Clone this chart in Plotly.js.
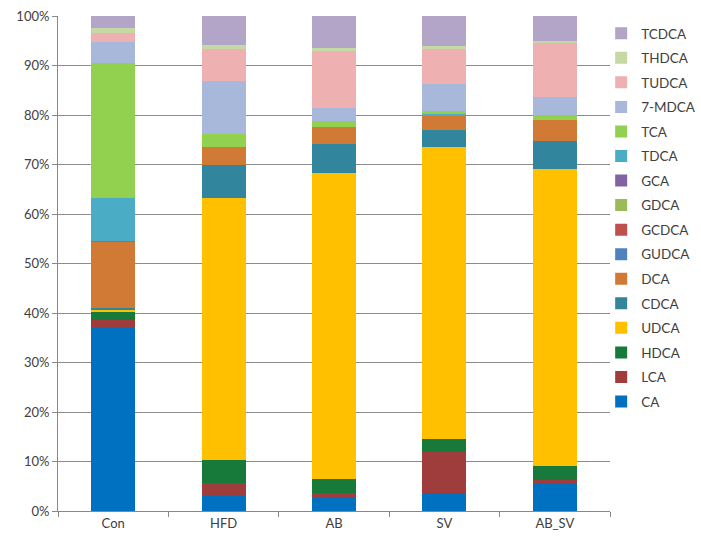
<!DOCTYPE html>
<html><head><meta charset="utf-8">
<script src="https://cdn.plot.ly/plotly-3.0.1.min.js"></script>
<style>body{margin:0;padding:0;background:#fff}#chart{width:701px;height:548px}</style>
</head><body><div id="chart"></div>
<script>
const groups = ["Con", "HFD", "AB", "SV", "AB_SV"];
const seriesNames = ["CA","LCA","HDCA","UDCA","CDCA","DCA","GUDCA","GCDCA","GDCA","GCA","TDCA","TCA","7-MDCA","TUDCA","THDCA","TCDCA"];
const CA     = [37.1, 3.2, 2.6, 3.4, 5.7];
const LCA    = [1.5, 2.4, 1.1, 8.6, 0.6];
const HDCA   = [1.7, 4.7, 2.8, 2.5, 2.8];
const UDCA   = [0.4, 53.0, 61.7, 59.1, 59.9];
const CDCA   = [0.4, 6.5, 6.0, 3.4, 5.7];
const DCA    = [13.2, 3.8, 3.3, 2.8, 4.3];
const GUDCA  = [0.3, 0, 0, 0, 0];
const GCDCA  = [0, 0, 0, 0, 0];
const GDCA   = [0, 0, 0, 0, 0];
const GCA    = [0, 0, 0, 0, 0];
const TDCA   = [8.7, 0, 0, 0.5, 0];
const TCA    = [27.3, 2.5, 1.3, 0.5, 1.0];
const MDCA7  = [4.2, 10.8, 2.7, 5.5, 3.7];
const TUDCA  = [1.7, 6.4, 11.5, 7.0, 10.9];
const THDCA  = [1.0, 0.8, 0.6, 0.7, 0.3];
const TCDCA  = [2.5, 5.9, 6.4, 6.0, 5.1];
const seriesValues = [CA, LCA, HDCA, UDCA, CDCA, DCA, GUDCA, GCDCA, GDCA, GCA, TDCA, TCA, MDCA7, TUDCA, THDCA, TCDCA];
const colors = ["#0070C0","#9E3D3B","#17793A","#FFC000","#31859C","#D07A35","#4F81BD","#C0504D","#9BBB59","#8064A2","#4BACC6","#92D050","#A7B8DA","#EEB0B0","#C6D9A4","#B3A5C8"];

const traces = seriesNames.map((n, i) => ({
  type: 'bar', name: n, x: groups, y: seriesValues[i],
  marker: {color: colors[i], line: {width: 0}},
  legendgroup: 'g' + i, legendrank: 100 - i, hoverinfo: 'name+y'
}));

const layout = {
  width: 701, height: 548,
  margin: {l: 58, r: 91, t: 16, b: 37, autoexpand: false},
  barmode: 'stack', bargap: 0.6,
  paper_bgcolor: '#fff', plot_bgcolor: '#fff',
  font: {family: 'Lato, "Open Sans", sans-serif', color: '#404040', size: 13},
  showlegend: true,
  legend: {x: 0.984, xanchor: 'left', y: 0.996, yanchor: 'top', traceorder: 'grouped', tracegroupgap: 4,
           font: {size: 13.5, color: '#404040'}, bgcolor: 'rgba(0,0,0,0)'},
  xaxis: {type: 'category', showline: true, linecolor: '#888', linewidth: 1, ticks: 'outside', tickson: 'boundaries',
          ticklen: 5, tickcolor: '#888', showgrid: false, tickfont: {size: 13}},
  yaxis: {range: [0, 100], dtick: 10, ticksuffix: '%', showgrid: true, gridcolor: '#8c8c8c', gridwidth: 1,
          showline: true, linecolor: '#888', ticks: 'outside', ticklen: 5, tickcolor: '#888', zeroline: false, tickfont: {size: 13}}
};
Plotly.newPlot('chart', traces, layout, {displayModeBar: false, staticPlot: true});
</script></body></html>
